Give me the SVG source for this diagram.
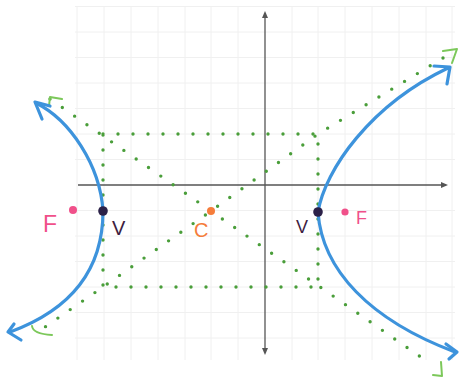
<svg xmlns="http://www.w3.org/2000/svg" width="461" height="383" viewBox="0 0 461 383">
<style>
.grid line{stroke:#f0f0f0;stroke-width:1}
.axis{stroke:#555;stroke-width:1.3;fill:none}
.dots{stroke:#4a9e3a;stroke-width:3.4;stroke-linecap:round;stroke-dasharray:0 15;fill:none}
.hook{stroke:#7cc85a;stroke-width:2;fill:none;stroke-linecap:round;stroke-linejoin:round}
.curve{stroke:#3d93dc;stroke-width:3.2;fill:none;stroke-linecap:round;stroke-linejoin:round}
.lbl{font-family:"Liberation Sans",Arial,sans-serif}
</style>
<rect width="461" height="383" fill="#fff"/>
<g class="grid">
<line x1="77" y1="6" x2="77" y2="360"/><line x1="104" y1="6" x2="104" y2="360"/><line x1="131" y1="6" x2="131" y2="360"/><line x1="158" y1="6" x2="158" y2="360"/><line x1="185" y1="6" x2="185" y2="360"/><line x1="211" y1="6" x2="211" y2="360"/><line x1="238" y1="6" x2="238" y2="360"/><line x1="292" y1="6" x2="292" y2="360"/><line x1="318" y1="6" x2="318" y2="360"/><line x1="345" y1="6" x2="345" y2="360"/><line x1="372" y1="6" x2="372" y2="360"/><line x1="399" y1="6" x2="399" y2="360"/><line x1="426" y1="6" x2="426" y2="360"/><line x1="452" y1="6" x2="452" y2="360"/>
<line x1="75" y1="6.5" x2="455" y2="6.5"/><line x1="75" y1="32" x2="455" y2="32"/><line x1="75" y1="57.5" x2="455" y2="57.5"/><line x1="75" y1="83" x2="455" y2="83"/><line x1="75" y1="108.5" x2="455" y2="108.5"/><line x1="75" y1="134" x2="455" y2="134"/><line x1="75" y1="159.5" x2="455" y2="159.5"/><line x1="75" y1="210.5" x2="455" y2="210.5"/><line x1="75" y1="236" x2="455" y2="236"/><line x1="75" y1="261.5" x2="455" y2="261.5"/><line x1="75" y1="287" x2="455" y2="287"/><line x1="75" y1="312.5" x2="455" y2="312.5"/><line x1="75" y1="338" x2="455" y2="338"/>
</g>
<g id="axes">
<path class="axis" d="M78,185 H446"/>
<path d="M448,185 l-7,-3 v6 z" fill="#555"/>
<path class="axis" d="M265,14 V352"/>
<path d="M265,11 l-3,7 h6 z" fill="#555"/>
<path d="M265,355 l-3,-7 h6 z" fill="#555"/>
</g>
<g id="connectors">
<rect class="dots" x="103" y="134" width="215" height="153"/>
<path class="dots" d="M50,99 L425,360"/>
<path class="dots" d="M443,58 L318,134 L211,211 L103,287 L45,327"/>
<path class="hook" d="M49,106 L50,97 L62,99"/>
<path class="hook" d="M443,51 L457,49 L452,63"/>
<path class="hook" d="M441,362 L442,376 L433,375"/>
<path class="hook" d="M32,326 Q33,334 52,335"/>
</g>
<g id="hyperbola-right">
<path class="curve" d="M318,212 C325,170 370,105 448,68"/>
<path class="curve" d="M434,66 L450,67 L447,84"/>
<path class="curve" d="M318,212 C322,270 370,320 455,352"/>
<path class="curve" d="M446,344 L457,352 L449,359"/>
</g>
<g id="hyperbola-left">
<path class="curve" d="M103,211 C100,165 70,120 36,103"/>
<path class="curve" d="M42,119 L35,102 L50,106"/>
<path class="curve" d="M103,211 C103,270 70,310 10,332"/>
<path class="curve" d="M14,324 L8,332 L21,340"/>
</g>
<g id="vertex-left"><circle cx="103" cy="211" r="4.8" fill="#2b2148"/><text class="lbl" x="112" y="235" font-size="20" fill="#3d2040">V</text></g>
<g id="vertex-right"><circle cx="318" cy="212" r="4.8" fill="#2b2148"/><text class="lbl" x="296" y="233" font-size="18" fill="#3d2040">V</text></g>
<g id="focus-left"><circle cx="73" cy="210" r="4" fill="#f0508a"/><text class="lbl" x="43" y="232" font-size="23" fill="#f0508a">F</text></g>
<g id="focus-right"><circle cx="345" cy="212" r="3.6" fill="#f0508a"/><text class="lbl" x="356" y="224" font-size="18" fill="#f0508a">F</text></g>
<g id="center"><circle cx="211" cy="211" r="4" fill="#f57c3a"/><text class="lbl" x="194" y="237" font-size="20" fill="#f57c3a">C</text></g>
</svg>
